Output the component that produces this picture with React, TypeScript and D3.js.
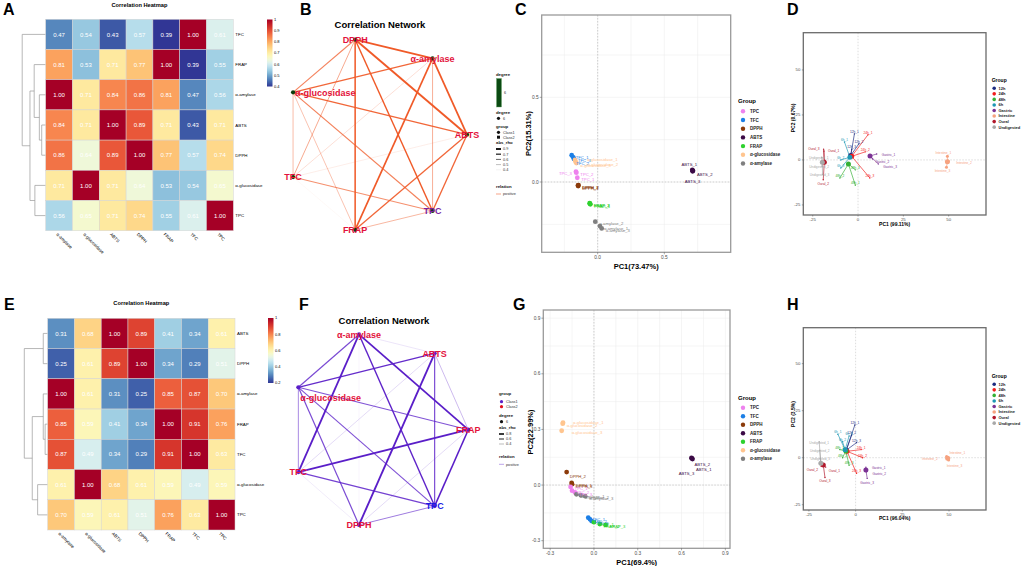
import * as d3 from 'd3'

const FONT = '"Liberation Sans", Arial, Helvetica, sans-serif'

// ---------- correlation heatmaps (A, E) ----------
const heatCols = ['α-amylase', 'α-glucosidase', 'ABTS', 'DPPH', 'FRAP', 'TFC', 'TPC']

const rowsA = ['TFC', 'FRAP', 'α-amylase', 'ABTS', 'DPPH', 'α-glucosidase', 'TPC']
const corrA = [
  [0.47, 0.54, 0.43, 0.57, 0.39, 1.0, 0.61],
  [0.81, 0.53, 0.71, 0.77, 1.0, 0.39, 0.55],
  [1.0, 0.71, 0.84, 0.86, 0.81, 0.47, 0.56],
  [0.84, 0.71, 1.0, 0.89, 0.71, 0.43, 0.71],
  [0.86, 0.64, 0.89, 1.0, 0.77, 0.57, 0.74],
  [0.71, 1.0, 0.71, 0.64, 0.53, 0.54, 0.65],
  [0.56, 0.65, 0.71, 0.74, 0.55, 0.61, 1.0],
]
const ticksA = [1, 0.9, 0.8, 0.7, 0.6, 0.5, 0.4]
const treeA = {
  h: 1,
  c: ['TFC', { h: 0.67, c: [{ h: 0.49, c: ['FRAP', { h: 0.27, c: ['α-amylase', { h: 0.17, c: ['ABTS', 'DPPH'] }] }] }, { h: 0.46, c: ['α-glucosidase', 'TPC'] }] }],
}

const rowsE = ['ABTS', 'DPPH', 'α-amylase', 'FRAP', 'TFC', 'α-glucosidase', 'TPC']
const corrE = [
  [0.31, 0.68, 1.0, 0.89, 0.41, 0.34, 0.61],
  [0.25, 0.61, 0.89, 1.0, 0.34, 0.29, 0.51],
  [1.0, 0.61, 0.31, 0.25, 0.85, 0.87, 0.7],
  [0.85, 0.59, 0.41, 0.34, 1.0, 0.91, 0.76],
  [0.87, 0.49, 0.34, 0.29, 0.91, 1.0, 0.63],
  [0.61, 1.0, 0.68, 0.61, 0.59, 0.49, 0.59],
  [0.7, 0.59, 0.61, 0.51, 0.76, 0.63, 1.0],
]
const ticksE = [1, 0.8, 0.6, 0.4, 0.2]
const treeE = {
  h: 1,
  c: [{ h: 0.19, c: ['ABTS', 'DPPH'] }, { h: 0.66, c: [{ h: 0.19, c: ['α-amylase', { h: 0.11, c: ['FRAP', 'TFC'] }] }, { h: 0.43, c: ['α-glucosidase', 'TPC'] }] }],
}

// ---------- correlation networks (B, F) ----------
const ringB = ['ABTS', 'α-amylase', 'DPPH', 'α-glucosidase', 'TFC', 'FRAP', 'TPC']
const ringF = ['FRAP', 'ABTS', 'α-amylase', 'α-glucosidase', 'TFC', 'DPPH', 'TPC']
const rhoKeysB = [0.9, 0.7, 0.6, 0.5, 0.4]
const rhoKeysF = [0.8, 0.6, 0.4]

// ---------- PCA of assays (C, G) ----------
const pcaGroups = ['TPC', 'TFC', 'DPPH', 'ABTS', 'FRAP', 'α-glucosidase', 'α-amylase']
const pcaColors = ['#ee82ee', '#1c7fe6', '#8b3a0a', '#3b0a45', '#2ed12e', '#ffc58f', '#7f7f7f']

const samplesC: [string, number, number][] = [
  ['TFC_1', -0.195, 0.158], ['TFC_2', -0.183, 0.146], ['TFC_3', -0.178, 0.136],
  ['α-glucosidase_1', -0.17, 0.13], ['α-glucosidase_2', -0.166, 0.12], ['α-glucosidase_3', -0.16, 0.112],
  ['TPC_1', -0.153, 0.025], ['TPC_2', -0.16, 0.055], ['TPC_3', -0.163, 0.061],
  ['DPPH_1', -0.146, -0.024], ['DPPH_2', -0.144, -0.018], ['DPPH_3', -0.148, -0.02],
  ['FRAP_1', -0.055, -0.132], ['FRAP_2', -0.06, -0.125], ['FRAP_3', -0.058, -0.128],
  ['α-amylase_1', 0.017, -0.26], ['α-amylase_2', -0.018, -0.234], ['α-amylase_3', 0.03, -0.274],
  ['ABTS_1', 0.71, 0.072], ['ABTS_2', 0.715, 0.066], ['ABTS_3', 0.712, 0.063],
]
const samplesG: [string, number, number][] = [
  ['α-glucosidase_1', -0.212, 0.336], ['α-glucosidase_2', -0.214, 0.331], ['α-glucosidase_3', -0.221, 0.293],
  ['DPPH_1', -0.153, 0.011], ['DPPH_2', -0.187, 0.07], ['DPPH_3', -0.15, 0.005],
  ['TPC_1', -0.16, -0.01], ['TPC_2', -0.15, -0.03], ['TPC_3', -0.13, -0.04],
  ['α-amylase_1', -0.12, -0.05], ['α-amylase_2', -0.09, -0.055], ['α-amylase_3', -0.06, -0.06],
  ['TFC_1', -0.039, -0.176], ['TFC_2', -0.027, -0.185], ['TFC_3', -0.016, -0.194],
  ['FRAP_1', 0.0, -0.2], ['FRAP_2', 0.04, -0.21], ['FRAP_3', 0.08, -0.215],
  ['ABTS_1', 0.671, 0.144], ['ABTS_2', 0.675, 0.14], ['ABTS_3', 0.668, 0.146],
]
const ticksC = { x: [0, 0.5], y: [0, 0.5] }
const ticksG = { x: [-0.3, 0, 0.3, 0.6, 0.9], y: [-0.3, 0, 0.3, 0.6, 0.9] }

// ---------- PCA of digestion stages (D, H) ----------
const stageGroups = ['12h', '24h', '48h', '6h', 'Gastric', 'Intestine', 'Oural', 'Undigested']
const stageColors = ['#1b2a80', '#f21c1c', '#35b035', '#1e98b4', '#7b3294', '#f6a27f', '#b2182b', '#a8a8a8']
const stageTicks = [-25, 0, 25, 50]

const centersD: [number, number][] = [[-4.0, 2.5], [-3.5, 2.0], [-5.3, -2.2], [-4.5, 1.5], [6.6, 2.2], [49.3, -1.0], [-18.6, -1.3], [-19.7, -1.3]]
const samplesD: [string, number, number][] = [
  ['12h_1', -2.0, 14.5], ['12h_2', 0.5, 9.0], ['12h_3', -3.5, 6.0],
  ['24h_1', 5.5, 14.0], ['24h_2', 4.0, 4.5], ['24h_3', 6.5, -10.0],
  ['48h_1', -1.5, -14.0], ['48h_2', -10.0, -10.0], ['48h_3', -1.5, -5.5],
  ['6h_1', -7.5, 10.0], ['6h_2', -9.5, 0.0], ['6h_3', -9.5, -4.5],
  ['Gastric_1', 10.3, 3.3], ['Gastric_2', 8.0, 0.5], ['Gastric_3', 11.2, -2.2],
  ['Intestine_1', 49.3, 2.0], ['Intestine_2', 49.8, -0.8], ['Intestine_3', 48.8, -4.0],
  ['Oural_1', -18.8, 5.0], ['Oural_2', -19.2, -11.0], ['Oural_3', -19.0, 6.0],
  ['Undigested_1', -20.0, 1.5], ['Undigested_2', -19.8, -3.5], ['Undigested_3', -19.6, -8.0],
]
const centersH: [number, number][] = [[-5.0, 4.0], [-4.6, 3.4], [-5.2, 3.6], [-5.6, 4.2], [5.5, -6.5], [49.3, -0.3], [-17.3, -3.9], [-18.6, -3.0]]
const samplesH: [string, number, number][] = [
  ['12h_1', -0.4, 17.4], ['12h_2', -2.1, 12.1], ['12h_3', 0.5, 8.0],
  ['24h_1', 3.0, 4.3], ['24h_2', 3.7, 0.0], ['24h_3', 0.5, -8.3],
  ['48h_1', -8.5, 4.3], ['48h_2', -7.0, 0.0], ['48h_3', -3.5, -4.0],
  ['6h_1', -9.5, 12.5], ['6h_2', -7.0, 8.5], ['6h_3', -3.5, 11.5],
  ['Gastric_1', 5.5, -5.0], ['Gastric_2', 5.8, -7.5], ['Gastric_3', 6.2, -11.0],
  ['Intestine_1', 48.7, 0.7], ['Intestine_2', 49.3, -0.3], ['Intestine_3', 49.8, -1.2],
  ['Oural_1', -16.0, -5.0], ['Oural_2', -18.5, -4.5], ['Oural_3', -16.4, -10.5],
  ['Undigested_1', -19.5, 8.5], ['Undigested_2', -19.2, 4.0], ['Undigested_3', -18.9, -0.3],
]

// label nudges [dx, dy, anchor] in px
const nudgeC: any = {
  'TPC_3': [-4, 2, 'end'], 'ABTS_1': [-3, -5, 'middle'], 'ABTS_2': [4, 4, 'start'], 'ABTS_3': [0, 10, 'middle'],
  'α-glucosidase_1': [12, 0, 'start'], 'α-glucosidase_2': [12, 3, 'start'], 'TFC_2': [3, 6, 'start'],
}
const nudgeG: any = {
  'α-glucosidase_1': [10, 0, 'start'], 'α-glucosidase_3': [10, 2, 'start'], 'DPPH_2': [3, 4, 'start'],
  'ABTS_1': [4, 11, 'start'], 'ABTS_2': [2, 5, 'start'], 'ABTS_3': [-5, 16, 'middle'],
}
const nudgeD: any = {
  'Gastric_1': [5, 1, 'start'], 'Gastric_2': [3, 3, 'start'], 'Gastric_3': [5, 3, 'start'],
  'Intestine_1': [-4, -3, 'middle'], 'Intestine_2': [8, 2, 'start'], 'Intestine_3': [-4, 4, 'middle'],
  'Oural_1': [4, 0, 'start'], 'Oural_2': [0, 4, 'middle'], 'Oural_3': [-4, 0, 'end'],
  'Undigested_1': [-3, 1, 'middle'], 'Undigested_2': [-3, 1, 'middle'], 'Undigested_3': [-3, 1, 'middle'],
}
const nudgeH: any = {
  'Gastric_1': [6, 1, 'start'], 'Gastric_2': [6, 2, 'start'], 'Gastric_3': [0, 5, 'middle'],
  'Intestine_1': [3, -3, 'start'], 'Intestine_2': [-10, 1, 'end'], 'Intestine_3': [-2, 6, 'start'],
  'Oural_1': [3, 4, 'start'], 'Oural_2': [-3, 4, 'end'], 'Oural_3': [0, 4, 'middle'],
  'Undigested_1': [0, 1, 'middle'], 'Undigested_2': [0, 1, 'middle'], 'Undigested_3': [0, 1, 'middle'],
}

type Tree = string | { h: number; c: Tree[] }

function Heatmap(props: any) {
  const { left, right, top, bottom, rows, vals, ticks, mid, tree, treeW, titleY, bar, gid } = props
  const x = d3.scaleBand<string>().domain(heatCols).range([left, right])
  const y = d3.scaleBand<string>().domain(rows).range([top, bottom])
  const lo = ticks[ticks.length - 1]
  // yellow sits a little below the middle of the range, as in the original palette
  const pos = d3.scaleLinear().domain([lo, mid, 1]).range([1, 0.5, 0]).clamp(true)
  const color = (v: number) => d3.interpolateRdYlBu(pos(v))
  const hx = d3.scaleLinear().domain([0, 1]).range([left, left - treeW])
  const links: string[] = []
  const walk = (n: Tree): number[] => {
    if (typeof n === 'string') return [left, (y(n) as number) + y.bandwidth() / 2]
    const a = walk(n.c[0])
    const b = walk(n.c[1])
    const nx = hx(n.h)
    links.push(`M${a[0]},${a[1]}H${nx}V${b[1]}H${b[0]}`)
    return [nx, (a[1] + b[1]) / 2]
  }
  walk(tree)
  const by = d3.scaleLinear().domain([lo, 1]).range([bar.y + bar.h, bar.y])
  const stops = d3.range(0, 1.0001, 0.05)
  return (
    <g>
      <text x={(left + right) / 2} y={titleY} fontSize={5.7} fontWeight="bold" textAnchor="middle">Correlation Heatmap</text>
      {links.map((d, i) => <path key={i} d={d} fill="none" stroke="#9a9a9a" strokeWidth={0.7} />)}
      {rows.map((r: string, i: number) => heatCols.map((c, j) => (
        <g key={r + c}>
          <rect x={x(c)} y={y(r)} width={x.bandwidth()} height={y.bandwidth()} fill={color(vals[i][j])} stroke="#d4d4d4" strokeWidth={0.5} />
          <text x={(x(c) as number) + x.bandwidth() / 2} y={(y(r) as number) + y.bandwidth() / 2 + 2.1} fontSize={6} fill="#fff" textAnchor="middle">{vals[i][j].toFixed(2)}</text>
        </g>
      )))}
      {rows.map((r: string) => (
        <text key={r} x={right + 2} y={(y(r) as number) + y.bandwidth() / 2 + 1.5} fontSize={4.4}>{r}</text>
      ))}
      {heatCols.map(c => {
        const cx = (x(c) as number) + x.bandwidth() / 2 - 3
        const cy = bottom + 4
        return <text key={c} x={cx} y={cy} fontSize={4.4} transform={`rotate(45 ${cx} ${cy})`}>{c}</text>
      })}
      <defs>
        <linearGradient id={gid} x1="0" y1="1" x2="0" y2="0">
          {stops.map(t => <stop key={t} offset={t} stopColor={color(lo + t * (1 - lo))} />)}
        </linearGradient>
      </defs>
      <rect x={bar.x} y={bar.y} width={bar.w} height={bar.h} fill={`url(#${gid})`} />
      {ticks.map((t: number) => <text key={t} x={bar.x + bar.w + 1.5} y={by(t) + 1.4} fontSize={4}>{t}</text>)}
    </g>
  )
}

function Network(props: any) {
  const { cx, cy, rx, ry, ring, rows, vals, edge, node, label, special, specialColor, titleX, titleY, gluDy, legend } = props
  const pos = new Map<string, number[]>(ring.map((n: string, i: number) => {
    const a = (i / ring.length) * 2 * Math.PI
    return [n, [cx + rx * Math.cos(a), cy - ry * Math.sin(a)]]
  }))
  const links: any[] = []
  ring.forEach((a: string, i: number) => ring.slice(i + 1).forEach((b: string) => {
    links.push({ a, b, r: vals[rows.indexOf(a)][heatCols.indexOf(b)] })
  }))
  links.sort((p, q) => p.r - q.r)
  const [lo, hi] = d3.extent(links, (d: any) => d.r as number) as number[]
  const w = d3.scaleLinear().domain([lo, hi]).range([0.35, 1.9])
  const op = d3.scaleLinear().domain([lo, lo + (hi - lo) * 0.7]).range([0.12, 1]).clamp(true)
  const L = legend
  const t = (x: number, y: number, s: string, bold = false) => (
    <text x={x} y={y} fontSize={bold ? 4.3 : 3.8} fontWeight={bold ? 'bold' : 'normal'} fill={bold ? '#111' : '#333'}>{s}</text>
  )
  return (
    <g>
      <text x={titleX} y={titleY} fontSize={9.5} fontWeight="bold" textAnchor="middle">Correlation Network</text>
      {links.map((d, i) => {
        const p = pos.get(d.a) as number[]
        const q = pos.get(d.b) as number[]
        return <line key={i} x1={p[0]} y1={p[1]} x2={q[0]} y2={q[1]} stroke={edge} strokeWidth={w(d.r)} strokeOpacity={op(d.r)} />
      })}
      {ring.map((n: string) => {
        const p = pos.get(n) as number[]
        return <circle key={n} cx={p[0]} cy={p[1]} r={2.1} fill={node} />
      })}
      {ring.map((n: string) => {
        const p = pos.get(n) as number[]
        const glu = n === 'α-glucosidase'
        return (
          <text key={n + 't'} x={p[0] + (glu ? 2 : 0)} y={p[1] + 3.2 + (glu ? gluDy : 0)} fontSize={9} fontWeight="bold"
            textAnchor={glu ? 'start' : 'middle'} fill={n === special ? specialColor : label}>{n}</text>
        )
      })}
      {L.kind === 'B' ? (
        <g>
          {t(L.x, 76, 'degree', true)}
          <rect x={L.x + 0.5} y={78.5} width={5} height={28.5} fill="#0b4a12" stroke="#6aa56a" strokeWidth={0.4} />
          {t(L.x + 8, 94, '6')}
          {t(L.x, 113.5, 'degree', true)}
          <circle cx={L.x + 2.5} cy={118.3} r={1.6} fill="#111" />
          {t(L.x + 7, 119.6, '6')}
          {t(L.x, 127.5, 'group', true)}
          <circle cx={L.x + 2.5} cy={132.3} r={1.6} fill="#111" />
          {t(L.x + 7, 133.6, 'Class1')}
          <rect x={L.x + 1} y={135.7} width={3} height={3} fill="#111" />
          {t(L.x + 7, 138.6, 'Class2')}
          {t(L.x, 144, 'abs_rho', true)}
          {L.keys.map((k: number, i: number) => (
            <g key={k}>
              <line x1={L.x} x2={L.x + 5} y1={149 + i * 5.2} y2={149 + i * 5.2} stroke="#111" strokeWidth={w(k)} strokeOpacity={op(k)} />
              {t(L.x + 7, 150.3 + i * 5.2, String(k))}
            </g>
          ))}
          {t(L.x, 187.5, 'relation', true)}
          <line x1={L.x} x2={L.x + 5} y1={194} y2={194} stroke={edge} strokeWidth={0.8} strokeOpacity={0.7} />
          {t(L.x + 7, 195.3, 'positive')}
        </g>
      ) : (
        <g>
          {t(L.x, 395, 'group', true)}
          <circle cx={L.x + 2.5} cy={401.7} r={1.6} fill={node} />
          {t(L.x + 7, 403, 'Class1')}
          <circle cx={L.x + 2.5} cy={406.7} r={1.6} fill="#e0101e" />
          {t(L.x + 7, 408, 'Class2')}
          {t(L.x, 416.5, 'degree', true)}
          <circle cx={L.x + 2.5} cy={421.7} r={1.6} fill="#111" />
          {t(L.x + 7, 423, '6')}
          {t(L.x, 429.3, 'abs_rho', true)}
          {L.keys.map((k: number, i: number) => (
            <g key={k}>
              <line x1={L.x} x2={L.x + 5} y1={434 + i * 5} y2={434 + i * 5} stroke="#111" strokeWidth={w(k)} strokeOpacity={op(k)} />
              {t(L.x + 7, 435.3 + i * 5, String(k))}
            </g>
          ))}
          {t(L.x, 458, 'relation', true)}
          <line x1={L.x} x2={L.x + 5} y1={464.3} y2={464.3} stroke={edge} strokeWidth={0.8} strokeOpacity={0.5} />
          {t(L.x + 7, 465.6, 'positive')}
        </g>
      )}
    </g>
  )
}

const groupOf = (name: string) => name.slice(0, name.lastIndexOf('_'))

function Scatter(props: any) {
  const { box, xDom, yDom, ticks, step, samples, xTitle, yTitle, xTitleY, yTitleY, nudge, legendTop, legendGap } = props
  const [x0, y0, x1, y1] = box
  const x = d3.scaleLinear().domain(xDom).range([x0, x1])
  const y = d3.scaleLinear().domain(yDom).range([y1, y0])
  const color = d3.scaleOrdinal<string, string>().domain(pcaGroups).range(pcaColors)
  const gx = d3.range(Math.ceil(xDom[0] / step), Math.floor(xDom[1] / step) + 1).map(k => k * step)
  const gy = d3.range(Math.ceil(yDom[0] / step), Math.floor(yDom[1] / step) + 1).map(k => k * step)
  return (
    <g>
      <rect x={x0} y={y0} width={x1 - x0} height={y1 - y0} fill="#fff" />
      {gx.map(v => <line key={'gx' + v} x1={x(v)} x2={x(v)} y1={y0} y2={y1} stroke="#ebebeb" strokeWidth={0.5} />)}
      {gy.map(v => <line key={'gy' + v} x1={x0} x2={x1} y1={y(v)} y2={y(v)} stroke="#ebebeb" strokeWidth={0.5} />)}
      <line x1={x(0)} x2={x(0)} y1={y0} y2={y1} stroke="#bdbdbd" strokeWidth={0.7} strokeDasharray="1.5 1.5" />
      <line x1={x0} x2={x1} y1={y(0)} y2={y(0)} stroke="#bdbdbd" strokeWidth={0.7} strokeDasharray="1.5 1.5" />
      {samples.map((s: any) => (
        <circle key={s[0]} cx={x(s[1])} cy={y(s[2])} r={2.4} fill={color(groupOf(s[0]))} />
      ))}
      {samples.map((s: any) => {
        const n = nudge[s[0]] || [4, 2, 'start']
        return (
          <text key={s[0] + 't'} x={x(s[1]) + n[0]} y={y(s[2]) + n[1] + 1.5} fontSize={4.2} textAnchor={n[2]} fill={color(groupOf(s[0]))}>{s[0]}</text>
        )
      })}
      <rect x={x0} y={y0} width={x1 - x0} height={y1 - y0} fill="none" stroke="#9a9a9a" strokeWidth={1.3} />
      {ticks.x.map((v: number) => (
        <g key={'tx' + v}>
          <line x1={x(v)} x2={x(v)} y1={y1} y2={y1 + 2} stroke="#555" strokeWidth={0.5} />
          <text x={x(v)} y={y1 + 7} fontSize={4.8} textAnchor="middle" fill="#4d4d4d">{v.toFixed(1)}</text>
        </g>
      ))}
      {ticks.y.map((v: number) => (
        <g key={'ty' + v}>
          <line x1={x0 - 2} x2={x0} y1={y(v)} y2={y(v)} stroke="#555" strokeWidth={0.5} />
          <text x={x0 - 3} y={y(v) + 1.7} fontSize={4.8} textAnchor="end" fill="#4d4d4d">{v.toFixed(1)}</text>
        </g>
      ))}
      <text x={(x0 + x1) / 2} y={xTitleY} fontSize={7.5} fontWeight="bold" textAnchor="middle">{xTitle}</text>
      <text transform={`translate(${x0 - 10.5},${yTitleY}) rotate(-90)`} fontSize={7.5} fontWeight="bold" textAnchor="middle">{yTitle}</text>
      <text x={738} y={legendTop} fontSize={6} fontWeight="bold">Group</text>
      {pcaGroups.map((g, i) => (
        <g key={g}>
          <circle cx={743} cy={legendTop + 8.3 + i * legendGap} r={2.2} fill={color(g)} />
          <text x={750} y={legendTop + 9.9 + i * legendGap} fontSize={4.5} fontWeight="bold" fill="#222">{g}</text>
        </g>
      ))}
    </g>
  )
}

function Spider(props: any) {
  const { box, xDom, yDom, centers, samples, xTitle, yTitle, xTitleY, yTitleY, tickY, nudge, legendTop } = props
  const [x0, y0, x1, y1] = box
  const x = d3.scaleLinear().domain(xDom).range([x0, x1])
  const y = d3.scaleLinear().domain(yDom).range([y1, y0])
  const color = d3.scaleOrdinal<string, string>().domain(stageGroups).range(stageColors)
  const centre = (g: string) => centers[stageGroups.indexOf(g)]
  return (
    <g>
      <line x1={x(0)} x2={x(0)} y1={y0} y2={y1} stroke="#cfcfcf" strokeWidth={0.7} strokeDasharray="1.5 1.5" />
      <line x1={x0} x2={x1} y1={y(0)} y2={y(0)} stroke="#cfcfcf" strokeWidth={0.7} strokeDasharray="1.5 1.5" />
      {samples.map((s: any) => {
        const c = centre(groupOf(s[0]))
        return <line key={s[0]} x1={x(c[0])} y1={y(c[1])} x2={x(s[1])} y2={y(s[2])} stroke={color(groupOf(s[0]))} strokeWidth={0.8} strokeOpacity={0.85} />
      })}
      {samples.map((s: any) => (
        <circle key={s[0] + 'p'} cx={x(s[1])} cy={y(s[2])} r={groupOf(s[0]) === 'Intestine' ? 1.5 : 0.7} fill={color(groupOf(s[0]))} />
      ))}
      {stageGroups.map((g, i) => (
        <circle key={g} cx={x(centers[i][0])} cy={y(centers[i][1])} r={2.5} fill={color(g)} />
      ))}
      {samples.map((s: any) => {
        const n = nudge[s[0]] || [0, -2, 'middle']
        return (
          <text key={s[0] + 't'} x={x(s[1]) + n[0]} y={y(s[2]) + n[1] + 1} fontSize={3.2} textAnchor={n[2]} fill={color(groupOf(s[0]))}>{s[0]}</text>
        )
      })}
      <rect x={x0} y={y0} width={x1 - x0} height={y1 - y0} fill="none" stroke="#6b6b6b" strokeWidth={1.3} />
      {stageTicks.map(v => (
        <g key={'t' + v}>
          <line x1={x(v)} x2={x(v)} y1={y1} y2={y1 + 1.5} stroke="#555" strokeWidth={0.5} />
          <text x={x(v)} y={tickY} fontSize={4.3} textAnchor="middle" fill="#4d4d4d">{v}</text>
          <line x1={x0 - 1.5} x2={x0} y1={y(v)} y2={y(v)} stroke="#555" strokeWidth={0.5} />
          <text x={x0 - 3} y={y(v) + 1.5} fontSize={4.3} textAnchor="end" fill="#4d4d4d">{v}</text>
        </g>
      ))}
      <text x={(x0 + x1) / 2} y={xTitleY} fontSize={5} fontWeight="bold" textAnchor="middle">{xTitle}</text>
      <text transform={`translate(${x0 - 8.5},${yTitleY}) rotate(-90)`} fontSize={5} fontWeight="bold" textAnchor="middle">{yTitle}</text>
      <text x={991.7} y={legendTop} fontSize={5} fontWeight="bold">Group</text>
      {stageGroups.map((g, i) => (
        <g key={g + 'l'}>
          <circle cx={994.2} cy={legendTop + 6.8 + i * 5.55} r={1.8} fill={color(g)} />
          <text x={998.5} y={legendTop + 8.2 + i * 5.55} fontSize={4} fontWeight="bold" fill="#222">{g}</text>
        </g>
      ))}
    </g>
  )
}

const letters: [string, number, number][] = [
  ['A', 3, 15], ['B', 300, 15], ['C', 515, 15], ['D', 787, 15],
  ['E', 4, 310], ['F', 299, 310], ['G', 513, 310], ['H', 787, 310],
]

export default function App() {
  return (
    <svg width={1021} height={566} style={{ position: 'absolute', left: 0, top: 0, background: '#fff' }} fontFamily={FONT}>
      <rect width={1021} height={566} fill="#fff" />
      <Heatmap gid="barA" left={45.7} right={233.3} top={19.3} bottom={230.7} rows={rowsA} vals={corrA} ticks={ticksA} mid={0.665}
        tree={treeA} treeW={23.5} titleY={7} bar={{ x: 267, y: 19.5, w: 5.5, h: 67 }} />
      <Heatmap gid="barE" left={47.7} right={235} top={318.3} bottom={530} rows={rowsE} vals={corrE} ticks={ticksE} mid={0.575}
        tree={treeE} treeW={23.4} titleY={305} bar={{ x: 268, y: 318, w: 5.5, h: 65 }} />
      <Network cx={375.5} cy={134.7} rx={91.5} ry={97.6} ring={ringB} rows={rowsA} vals={corrA} edge="#f05a28" node="#0b3d0b"
        label="#e3123c" special="TPC" specialColor="#7a1fa2" titleX={380} titleY={28} gluDy={0}
        legend={{ kind: 'B', x: 496, keys: rhoKeysB }} />
      <Network cx={378.9} cy={429.7} rx={89.4} ry={97.7} ring={ringF} rows={rowsE} vals={corrE} edge="#5a1ec8" node="#5a1ec8"
        label="#e3123c" special="TPC" specialColor="#1a1ae6" titleX={384} titleY={324} gluDy={10.5}
        legend={{ kind: 'F', x: 499, keys: rhoKeysF }} />
      <Scatter box={[541.7, 15, 730.7, 252.3]} xDom={[-0.42, 0.998]} yDom={[-0.415, 0.986]} ticks={ticksC} step={0.25}
        samples={samplesC} xTitle="PC1(73.47%)" yTitle="PC2(15.31%)" xTitleY={268.5} yTitleY={133.6} nudge={nudgeC}
        legendTop={103} legendGap={8.7} />
      <Scatter box={[543.3, 310, 730, 548.3]} xDom={[-0.347, 0.932]} yDom={[-0.341, 0.944]} ticks={ticksG} step={0.15}
        samples={samplesG} xTitle="PC1(69.4%)" yTitle="PC2(22.99%)" xTitleY={564.5} yTitleY={432} nudge={nudgeG}
        legendTop={399.5} legendGap={8.5} />
      <Spider box={[803.3, 32.7, 986, 215]} xDom={[-30.2, 70.6]} yDom={[-30.6, 70.7]} centers={centersD} samples={samplesD}
        xTitle="PC1 (99.11%)" yTitle="PC2 (0.67%)" xTitleY={225.5} yTitleY={118} tickY={220.5} nudge={nudgeD} legendTop={81.5} />
      <Spider box={[803.3, 327.7, 986, 510]} xDom={[-28, 69.8]} yDom={[-27.8, 69.1]} centers={centersH} samples={samplesH}
        xTitle="PC1 (96.04%)" yTitle="PC2 (3.5%)" xTitleY={520} yTitleY={414} tickY={515.5} nudge={nudgeH} legendTop={377.5} />
      {letters.map(([s, x, y]) => (
        <text key={s} x={x} y={y} fontSize={16} fontWeight="bold">{s}</text>
      ))}
    </svg>
  )
}
